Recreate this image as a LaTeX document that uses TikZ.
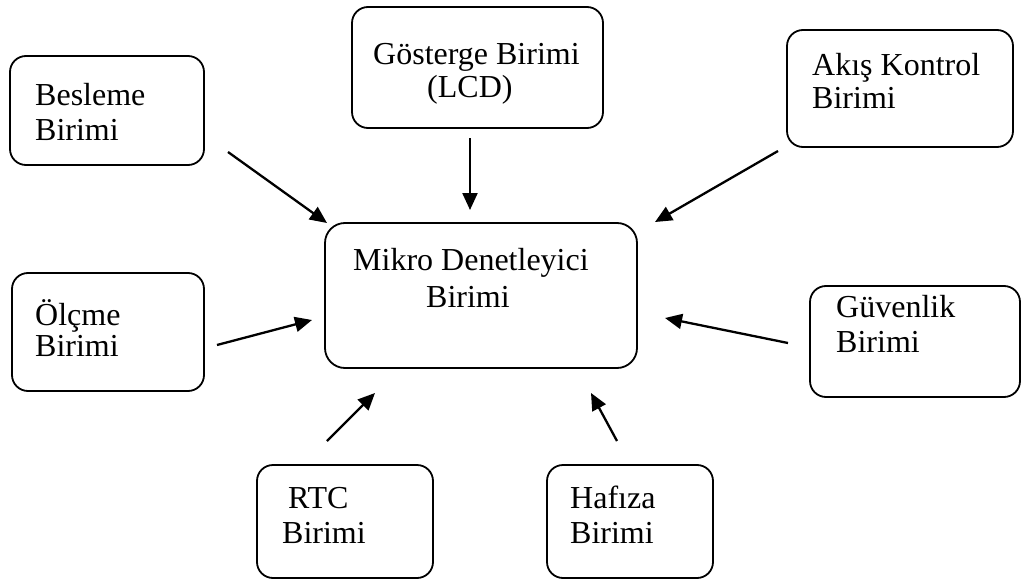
\documentclass[tikz,border=0pt]{standalone}
\usepackage{fontspec}
\setmainfont{Liberation Serif}
\usetikzlibrary{arrows.meta}
\begin{document}
\begin{tikzpicture}[x=1pt,y=-1pt,
  box/.style={draw, line width=1.8pt, rounded corners=16pt, inner sep=0pt},
  lbl/.style={anchor=base west, inner sep=0pt, font=\fontsize{32}{35}\selectfont},
  arr/.style={line width=2.3pt, -{Triangle[length=17pt,width=15pt]}}]
\useasboundingbox (0,0) rectangle (1023,586);
% boxes
\node[box, minimum width=194pt, minimum height=109pt] (bes) at (107,110.5) {};
\node[box, minimum width=251pt, minimum height=121pt] (gos) at (477.5,67.5) {};
\node[box, minimum width=226pt, minimum height=117pt] (aki) at (900,88.5) {};
\node[box, minimum width=312pt, minimum height=145pt, rounded corners=20pt] (mik) at (481,295.5) {};
\node[box, minimum width=192pt, minimum height=118pt] (olc) at (108,332) {};
\node[box, minimum width=210pt, minimum height=111pt] (guv) at (915,341.5) {};
\node[box, minimum width=176pt, minimum height=113pt] (rtc) at (345,521.5) {};
\node[box, minimum width=166pt, minimum height=113pt] (haf) at (630,521.5) {};
% texts
\node[lbl] (besA) at (35,105) {Besleme};
\node[lbl] (besB) at (35,140) {Birimi};
\node[lbl] (gosA) at (373,65) {Gösterge Birimi};
\node[lbl] (gosB) at (427,98) {(LCD)};
\node[lbl] (akiA) at (812,75) {Akış Kontrol};
\node[lbl] (akiB) at (812,108) {Birimi};
\node[lbl] (mikA) at (353,270) {Mikro Denetleyici};
\node[lbl] (mikB) at (426,307) {Birimi};
\node[lbl] (olcA) at (35,325) {Ölçme};
\node[lbl] (olcB) at (35,356) {Birimi};
\node[lbl] (guvA) at (836,317) {Güvenlik};
\node[lbl] (guvB) at (836,352) {Birimi};
\node[lbl] (rtcA) at (288,508) {RTC};
\node[lbl] (rtcB) at (282,543) {Birimi};
\node[lbl] (hafA) at (570,508) {Hafıza};
\node[lbl] (hafB) at (570,543) {Birimi};
% arrow ends
\coordinate (besS) at (228,152);  \coordinate (besE) at (327,223);
\coordinate (gosS) at (470,138);  \coordinate (gosE) at (470,210);
\coordinate (akiS) at (778,151);  \coordinate (akiE) at (655,222);
\coordinate (olcS) at (217,345);  \coordinate (olcE) at (312,320);
\coordinate (guvS) at (788,343);  \coordinate (guvE) at (665,318);
\coordinate (rtcS) at (327,441);  \coordinate (rtcE) at (375,393);
\coordinate (hafS) at (617,441);  \coordinate (hafE) at (591,393);
\draw[arr] (besS) -- (besE);
\draw[arr] (gosS) -- (gosE);
\draw[arr] (akiS) -- (akiE);
\draw[arr] (olcS) -- (olcE);
\draw[arr] (guvS) -- (guvE);
\draw[arr] (rtcS) -- (rtcE);
\draw[arr] (hafS) -- (hafE);
\end{tikzpicture}
\end{document}
